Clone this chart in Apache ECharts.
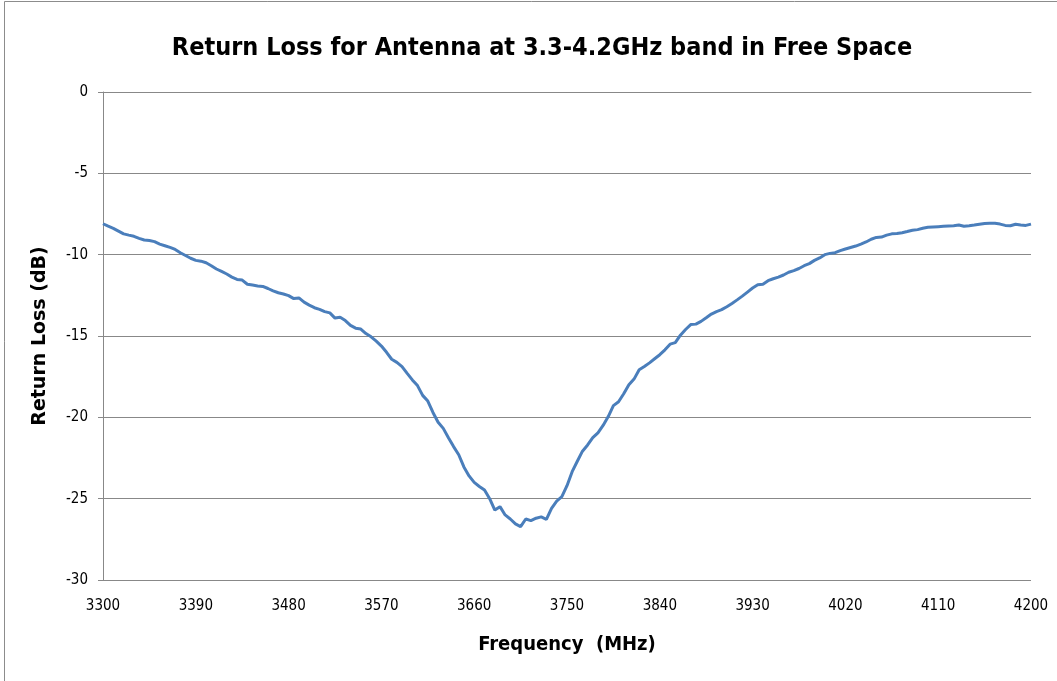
<!DOCTYPE html>
<html>
<head>
<meta charset="utf-8">
<title>Return Loss</title>
<script src="https://cdn.jsdelivr.net/npm/echarts@6/dist/echarts.min.js"></script>
<style>
  html, body { margin: 0; padding: 0; background: #fff; }
  #chart { width: 1057px; height: 681px; }
</style>
</head>
<body>
<div id="chart"></div>
<script>
// frequency sweep (MHz)
var freq = [
  3300, 3305, 3310, 3315, 3320, 3325, 3330, 3335, 3340, 3345,
  3350, 3355, 3360, 3365, 3370, 3375, 3380, 3385, 3390, 3395,
  3400, 3405, 3410, 3415, 3420, 3425, 3430, 3435, 3440, 3445,
  3450, 3455, 3460, 3465, 3470, 3475, 3480, 3485, 3490, 3495,
  3500, 3505, 3510, 3515, 3520, 3525, 3530, 3535, 3540, 3545,
  3550, 3555, 3560, 3565, 3570, 3575, 3580, 3585, 3590, 3595,
  3600, 3605, 3610, 3615, 3620, 3625, 3630, 3635, 3640, 3645,
  3650, 3655, 3660, 3665, 3670, 3675, 3680, 3685, 3690, 3695,
  3700, 3705, 3710, 3715, 3720, 3725, 3730, 3735, 3740, 3745,
  3750, 3755, 3760, 3765, 3770, 3775, 3780, 3785, 3790, 3795,
  3800, 3805, 3810, 3815, 3820, 3825, 3830, 3835, 3840, 3845,
  3850, 3855, 3860, 3865, 3870, 3875, 3880, 3885, 3890, 3895,
  3900, 3905, 3910, 3915, 3920, 3925, 3930, 3935, 3940, 3945,
  3950, 3955, 3960, 3965, 3970, 3975, 3980, 3985, 3990, 3995,
  4000, 4005, 4010, 4015, 4020, 4025, 4030, 4035, 4040, 4045,
  4050, 4055, 4060, 4065, 4070, 4075, 4080, 4085, 4090, 4095,
  4100, 4105, 4110, 4115, 4120, 4125, 4130, 4135, 4140, 4145,
  4150, 4155, 4160, 4165, 4170, 4175, 4180, 4185, 4190, 4195,
  4200
]

// return loss (dB)
var returnLoss = [
  -8.10, -8.25, -8.38, -8.55, -8.72, -8.80, -8.87, -9.00, -9.10, -9.13,
  -9.20, -9.35, -9.45, -9.55, -9.68, -9.88, -10.05, -10.22, -10.35, -10.40,
  -10.50, -10.68, -10.88, -11.03, -11.19, -11.38, -11.52, -11.56, -11.82, -11.87,
  -11.92, -11.95, -12.08, -12.22, -12.34, -12.42, -12.52, -12.70, -12.66, -12.92,
  -13.10, -13.26, -13.36, -13.50, -13.58, -13.90, -13.85, -14.05, -14.35, -14.52,
  -14.57, -14.85, -15.05, -15.32, -15.62, -16.00, -16.43, -16.62, -16.88, -17.30,
  -17.70, -18.05, -18.65, -19.00, -19.70, -20.30, -20.68, -21.25, -21.80, -22.30,
  -23.05, -23.60, -24.00, -24.25, -24.47, -25.00, -25.70, -25.49, -26.00, -26.25,
  -26.55, -26.72, -26.25, -26.35, -26.20, -26.12, -26.27, -25.60, -25.15, -24.88,
  -24.20, -23.34, -22.70, -22.08, -21.70, -21.25, -20.95, -20.50, -19.95, -19.28,
  -19.04, -18.55, -18.00, -17.65, -17.08, -16.88, -16.65, -16.40, -16.15, -15.85,
  -15.50, -15.41, -14.95, -14.60, -14.30, -14.27, -14.10, -13.88, -13.65, -13.50,
  -13.38, -13.20, -13.00, -12.78, -12.55, -12.30, -12.05, -11.85, -11.82, -11.60,
  -11.48, -11.38, -11.25, -11.08, -10.98, -10.85, -10.68, -10.55, -10.35, -10.20,
  -10.00, -9.92, -9.88, -9.75, -9.65, -9.56, -9.47, -9.35, -9.22, -9.05,
  -8.94, -8.92, -8.80, -8.72, -8.70, -8.65, -8.58, -8.50, -8.46, -8.38,
  -8.32, -8.30, -8.28, -8.26, -8.24, -8.22, -8.18, -8.25, -8.22, -8.18,
  -8.13, -8.08, -8.07, -8.07, -8.12, -8.20, -8.22, -8.13, -8.18, -8.20,
  -8.12
]

var font = '"Liberation Sans Narrow", "DejaVu Sans Condensed", sans-serif'

var chart = echarts.init(document.getElementById('chart'), null, { renderer: 'canvas' })

chart.setOption({
  animation: false,
  backgroundColor: '#ffffff',
  title: {
    text: 'Return Loss for Antenna at 3.3-4.2GHz band in Free Space',
    left: 537,
    textAlign: 'center',
    top: 31,
    textStyle: {
      fontFamily: font,
      fontSize: 25,
      fontWeight: 'bold',
      color: '#000'
    }
  },
  graphic: [{
    type: 'rect',
    shape: { x: 4.5, y: 1.5, width: 1100, height: 700 },
    style: { fill: 'none', stroke: '#8c8c8c', lineWidth: 1 },
    silent: true
  }],
  grid: {
    left: 103,
    right: 26,
    top: 92,
    bottom: 101
  },
  xAxis: {
    type: 'category',
    data: freq,
    boundaryGap: false,
    name: 'Frequency  (MHz)',
    nameLocation: 'middle',
    nameGap: 55,
    nameTextStyle: {
      fontFamily: font,
      fontSize: 20,
      fontWeight: 'bold',
      color: '#000'
    },
    axisLine: { lineStyle: { color: '#888', width: 1 } },
    axisTick: { show: false },
    axisLabel: {
      interval: 17,
      margin: 19,
      fontFamily: font,
      fontSize: 15,
      color: '#000'
    },
    splitLine: { show: false }
  },
  yAxis: {
    type: 'value',
    min: -30,
    max: 0,
    interval: 5,
    name: 'Return Loss (dB)',
    nameLocation: 'middle',
    nameGap: 53,
    nameRotate: 90,
    nameTextStyle: {
      fontFamily: 'DejaVu Sans, sans-serif',
      fontSize: 19,
      fontWeight: 'bold',
      color: '#000'
    },
    axisLine: { show: true, lineStyle: { color: '#888', width: 1 } },
    axisTick: { show: true, length: 5, lineStyle: { color: '#888' } },
    axisLabel: {
      margin: 15,
      fontFamily: font,
      fontSize: 15,
      color: '#000'
    },
    splitLine: { lineStyle: { color: '#888', width: 1 } }
  },
  series: [{
    name: 'Return Loss',
    type: 'line',
    data: returnLoss,
    showSymbol: false,
    smooth: false,
    lineStyle: { color: '#4a7ebb', width: 3 },
    itemStyle: { color: '#4a7ebb' }
  }]
})
</script>
</body>
</html>
